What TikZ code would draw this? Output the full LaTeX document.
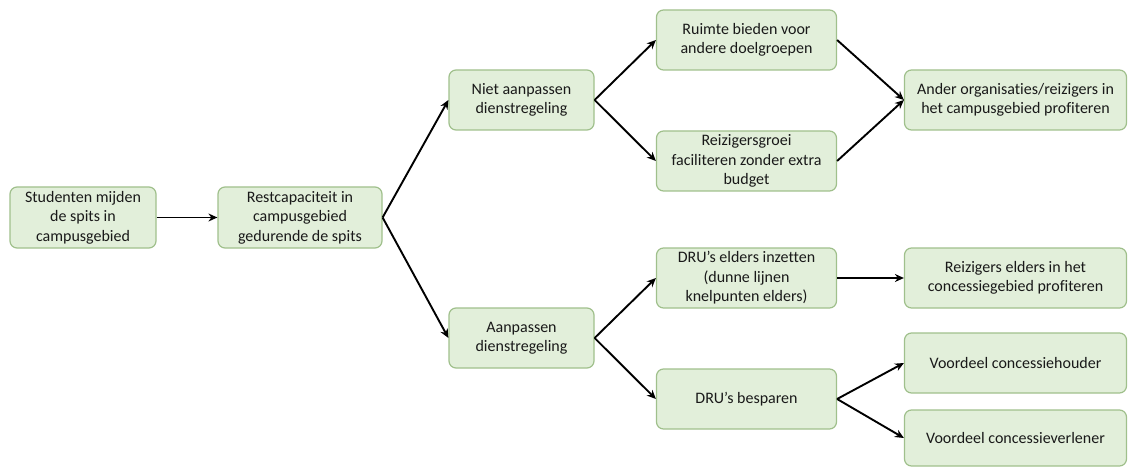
\documentclass[tikz,border=0pt]{standalone}
\usepackage{fontspec}
\setmainfont[Ligatures=NoCommon]{Carlito}
\usetikzlibrary{arrows.meta}
\begin{document}
\begin{tikzpicture}[x=1pt,y=-1pt,
  box/.style={draw=boxline, fill=boxfill, line width=1.2pt, rounded corners=7pt,
    align=center, inner sep=2pt, font=\fontsize{16}{19.5}\selectfont, text=textcol},
  conn/.style={line width=1.9pt, -{Stealth[length=9pt,width=8pt]}}]
\definecolor{boxfill}{RGB}{226,239,218}
\definecolor{boxline}{RGB}{160,192,140}
\definecolor{textcol}{RGB}{25,25,25}
\useasboundingbox (0,0) rectangle (1128,468);
\node[box, minimum width=146pt, minimum height=61pt] (stud) at (83,217.5) {Studenten mijden\\de spits in\\campusgebied};
\node[box, minimum width=164pt, minimum height=61pt] (rest) at (300,217.5) {Restcapaciteit in\\campusgebied\\gedurende de spits};
\node[box, minimum width=145pt, minimum height=60pt] (niet) at (521.5,100) {Niet aanpassen\\dienstregeling};
\node[box, minimum width=145pt, minimum height=60pt] (aanp) at (521.5,338) {Aanpassen\\dienstregeling};
\node[box, minimum width=180pt, minimum height=60pt] (ruim) at (746.5,40) {Ruimte bieden voor\\andere doelgroepen};
\node[box, minimum width=180pt, minimum height=60pt] (groei) at (746.5,161) {Reizigersgroei\\faciliteren zonder extra\\budget};
\node[box, minimum width=222pt, minimum height=60pt] (ander) at (1015.5,100) {Ander organisaties/reizigers in\\het campusgebied profiteren};
\node[box, minimum width=180pt, minimum height=60pt] (elders) at (746.5,278) {DRU’s elders inzetten\\(dunne lijnen\\knelpunten elders)};
\node[box, minimum width=222pt, minimum height=60pt] (reiz) at (1015.5,278) {Reizigers elders in het\\concessiegebied profiteren};
\node[box, minimum width=180pt, minimum height=60pt] (besp) at (746.5,399) {DRU’s besparen};
\node[box, minimum width=222pt, minimum height=60pt] (houder) at (1015.5,363) {Voordeel concessiehouder};
\node[box, minimum width=222pt, minimum height=56pt] (verl) at (1015.5,438) {Voordeel concessieverlener};
\draw[conn] (stud.east) -- (rest.west);
\draw[conn] (rest.east) -- (niet.west);
\draw[conn] (rest.east) -- (aanp.west);
\draw[conn] (niet.east) -- (ruim.west);
\draw[conn] (niet.east) -- (groei.west);
\draw[conn] (ruim.east) -- (ander.west);
\draw[conn] (groei.east) -- (ander.west);
\draw[conn] (aanp.east) -- (elders.west);
\draw[conn] (aanp.east) -- (besp.west);
\draw[conn] (elders.east) -- (reiz.west);
\draw[conn] (besp.east) -- (houder.west);
\draw[conn] (besp.east) -- (verl.west);
\end{tikzpicture}
\end{document}
